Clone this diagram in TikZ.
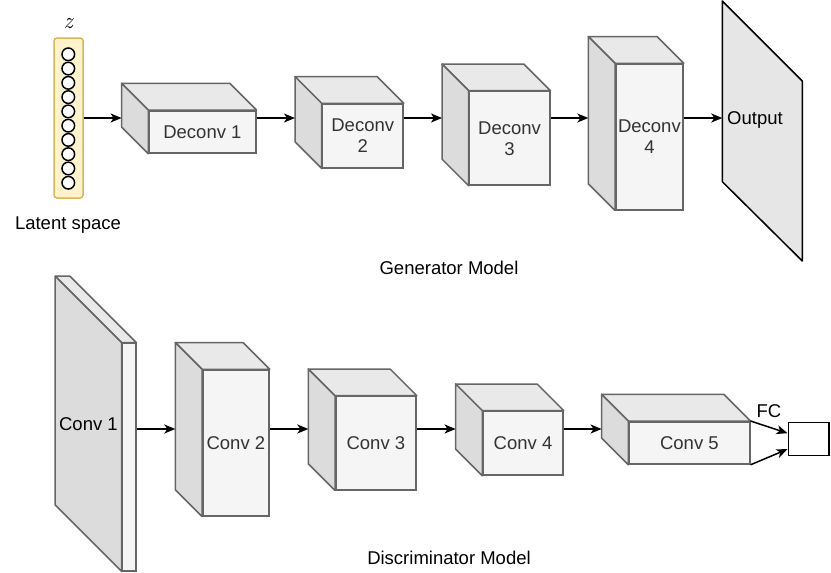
\documentclass[tikz,border=0pt]{standalone}
\usepackage{fontspec}
\setmainfont{Liberation Sans}
\newfontfamily\lmfont{Latin Modern Roman}
\usepackage{tikz}
\usetikzlibrary{arrows.meta,positioning,calc}
\usepackage{xcolor}
\definecolor{facefront}{HTML}{F5F5F5}
\definecolor{facetop}{HTML}{E9E9E9}
\definecolor{faceside}{HTML}{DCDCDC}
\definecolor{outfill}{HTML}{E6E6E6}
\definecolor{edgegray}{HTML}{666666}
\definecolor{textgray}{HTML}{333333}
\definecolor{latentfill}{HTML}{FFF2CC}
\definecolor{latentdraw}{HTML}{D6B656}
\tikzset{
  >=Stealth,
  face/.style={draw=edgegray, fill=facefront, line width=1.5pt, text=textgray,
    inner sep=0pt, align=center, anchor=north west},
  side/.style={draw=edgegray, line width=1.5pt, line join=round},
  arr/.style={-{Stealth[length=11pt,width=9pt,inset=3pt]}, line width=1.5pt},
}
% top and left faces behind a front face node: #1 node, #2 depth
\newcommand{\cubesides}[2]{%
  \draw[side, fill=facetop] (#1.north west) -- ++(-#2,-#2)
    -- ([shift={(-#2,-#2)}]#1.north east) -- (#1.north east) -- cycle;
  \draw[side, fill=faceside] (#1.north west) -- ++(-#2,-#2)
    -- ([shift={(-#2,-#2)}]#1.south west) -- (#1.south west) -- cycle;
  \coordinate (#1-back) at ([xshift=-#2]#1.west);
}

\begin{document}
\begin{tikzpicture}[x=1pt, y=-1pt, font=\fontsize{18.5}{21}\selectfont]
  \useasboundingbox (0,0) rectangle (831,573);
  \coordinate (genrow) at (0,118);
  \coordinate (disrow) at (0,429);

  % generator
  \node[draw=latentdraw, fill=latentfill, line width=1.5pt, rounded corners=3pt,
    minimum width=29pt, minimum height=160pt, inner sep=0pt] (latent) at (68.5,118) {};
  \foreach \i in {0,...,9}
    \draw[line width=1.5pt, fill=white] (68.3,54.3+14.27*\i) circle (6.3);
  \node[font=\lmfont\itshape\fontsize{23}{25}\selectfont] (zlabel) at (68.3,24) {z};
  \node (latentlabel) at (68,225) {Latent space};

  \node[face, minimum width=106.7pt, minimum height=42.3pt] (d1) at (148.3,110) {Deconv 1};
  \cubesides{d1}{26.7}
  \node[face, minimum width=80.6pt, minimum height=63.7pt] (d2) at (321.7,103.3) {Deconv\\2};
  \cubesides{d2}{26.7}
  \node[face, minimum width=80.3pt, minimum height=93.6pt] (d3) at (468.7,90.7) {Deconv\\3};
  \cubesides{d3}{26.7}
  \node[face, minimum width=67.3pt, minimum height=145.7pt] (d4) at (615,63.3) {Deconv\\4};
  \cubesides{d4}{26.7}

  \coordinate (out-nw) at (722.3,1);
  \draw[line width=1.5pt, fill=outfill, line join=round]
    (out-nw) -- (802.3,81) -- (802.3,261) -- (722.3,181.7) -- cycle;
  \node (out) at (755,120) {Output};

  \draw[arr] (latent.east) -- (d1-back |- latent.east);
  \draw[arr] (d1.east |- genrow) -- (d2-back |- genrow);
  \draw[arr] (d2.east |- genrow) -- (d3-back |- genrow);
  \draw[arr] (d3.east |- genrow) -- (d4-back |- genrow);
  \draw[arr] (d4.east |- genrow) -- (out-nw |- genrow);

  \node (gen) at (449,268) {Generator Model};

  % discriminator
  \node[face, minimum width=13.3pt, minimum height=227.3pt] (c1) at (121.7,342.7) {};
  \cubesides{c1}{66.5}
  \node (c1label) at ([shift={(-33.25,-33.25)}]c1.west) {Conv 1};
  \node[face, minimum width=66.3pt, minimum height=145.7pt] (c2) at (202,369.3) {Conv 2};
  \cubesides{c2}{26.7}
  \node[face, minimum width=80.3pt, minimum height=93.3pt] (c3) at (335,395.7) {Conv 3};
  \cubesides{c3}{26.7}
  \node[face, minimum width=80pt, minimum height=63.6pt] (c4) at (482.3,410.7) {Conv 4};
  \cubesides{c4}{26.7}
  \node[face, minimum width=120.7pt, minimum height=42.3pt] (c5) at (628.3,421) {Conv 5};
  \cubesides{c5}{26.7}
  \node[draw, line width=1.5pt, fill=white, minimum width=40.7pt, minimum height=33pt,
    inner sep=0pt] (fc) at (808.6,439.2) {};

  \draw[arr] (c1.east |- disrow) -- (c2-back |- disrow);
  \draw[arr] (c2.east |- disrow) -- (c3-back |- disrow);
  \draw[arr] (c3.east |- disrow) -- (c4-back |- disrow);
  \draw[arr] (c4.east |- disrow) -- (c5-back |- disrow);
  \draw[arr] (c5.north east) -- ([yshift=6]fc.west) node[midway, above=5pt] {FC};
  \draw[arr] (c5.south east) -- ([yshift=-10]fc.west);

  \node (dis) at (449,558) {Discriminator Model};
\end{tikzpicture}
\end{document}
